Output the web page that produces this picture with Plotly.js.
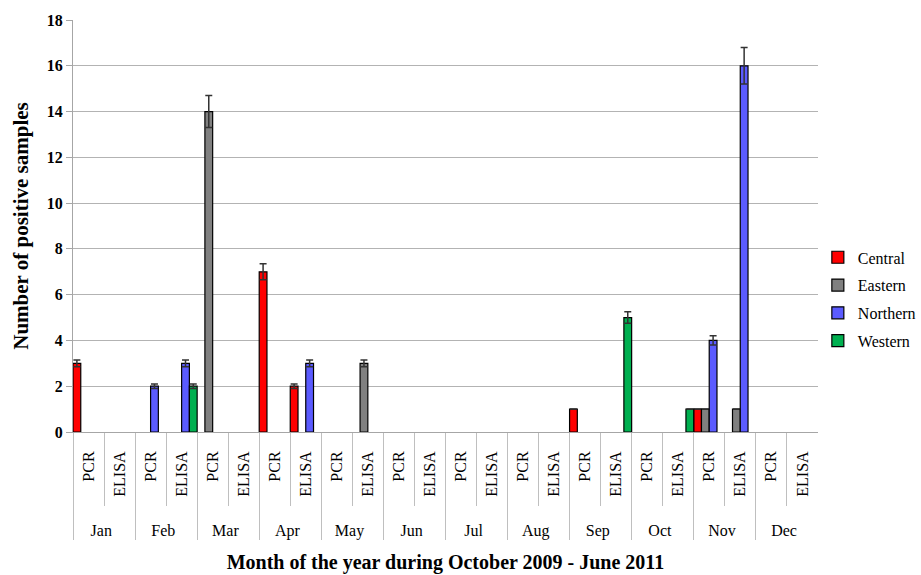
<!DOCTYPE html>
<html>
<head>
<meta charset="utf-8">
<script src="https://cdn.plot.ly/plotly-3.0.1.min.js"></script>
<style>html,body{margin:0;padding:0;background:#fff;}#chart{width:921px;height:575px;}</style>
</head>
<body>
<div id="chart"></div>
<script>
const months = ["Jan","Feb","Mar","Apr","May","Jun","Jul","Aug","Sep","Oct","Nov","Dec"];
const methods = ["PCR","ELISA"];
const seriesNames = ["Central","Eastern","Northern","Western"];
const seriesColors = ["#ff0000","#808080","#5b5bff","#00b050"];
// values per category in order Jan PCR, Jan ELISA, Feb PCR, ... Dec ELISA (null = no bar)
const central  = [3,null, null,null, null,null, 7,2, null,null, null,null, null,null, null,null, 1,null, null,null, 1,null, null,null];
const eastern  = [null,null, null,null, 14,null, null,null, null,3, null,null, null,null, null,null, null,null, null,null, 1,1, null,null];
const northern = [null,null, 2,3, null,null, null,3, null,null, null,null, null,null, null,null, null,null, null,null, 4,16, null,null];
const western  = [null,null, null,2, null,null, null,null, null,null, null,null, null,null, null,null, null,5, null,1, null,null, null,null];
const centralErr  = [0.15,0, 0,0, 0,0, 0.35,0.1, 0,0, 0,0, 0,0, 0,0, 0,0, 0,0, 0,0, 0,0];
const easternErr  = [0,0, 0,0, 0.7,0, 0,0, 0,0.15, 0,0, 0,0, 0,0, 0,0, 0,0, 0,0, 0,0];
const northernErr = [0,0, 0.1,0.15, 0,0, 0,0.15, 0,0, 0,0, 0,0, 0,0, 0,0, 0,0, 0.2,0.8, 0,0];
const westernErr  = [0,0, 0,0.1, 0,0, 0,0, 0,0, 0,0, 0,0, 0,0, 0,0.25, 0,0, 0,0, 0,0];

// leading no-break spaces give the inner label row extra depth (pushes month row down)
const pad = "\u00a0\u00a0\u00a0\u00a0\u00a0";
const xOuter = [], xInner = [];
months.forEach(m => methods.forEach(t => { xOuter.push(m); xInner.push(pad + t); }));

const values = [central, eastern, northern, western];
const errs = [centralErr, easternErr, northernErr, westernErr];
const serif = '"Liberation Serif", "Times New Roman", Times, serif';

const traces = seriesNames.map((name, i) => ({
  type: "bar",
  name: name,
  x: [xOuter, xInner],
  y: values[i],
  legendgroup: name,
  marker: {color: seriesColors[i], line: {color: "#000000", width: 1.2}},
  error_y: {type: "data", array: errs[i], visible: true, color: "#333333", thickness: 1.5, width: 3.5}
}));

const layout = {
  width: 921, height: 575,
  margin: {l: 73, r: 101, t: 20, b: 143},
  paper_bgcolor: "#ffffff", plot_bgcolor: "#ffffff",
  barmode: "group", bargap: 0, bargroupgap: 0,
  showlegend: true,
  legend: {xref: "container", yref: "container", x: 0.888, y: 0.582, xanchor: "left", yanchor: "top",
           traceorder: "grouped", tracegroupgap: 4,
           font: {family: serif, size: 16, weight: "normal", color: "#000"}, itemwidth: 30},
  font: {family: serif, color: "#000"},
  xaxis: {
    type: "multicategory",
    tickangle: -90,
    tickfont: {family: serif, size: 16, weight: "normal", color: "#000"},
    ticklabelstandoff: 12,
    ticks: "outside", tickson: "boundaries", ticklen: 73, tickcolor: "#bfbfbf", tickwidth: 1,
    showdividers: true, dividercolor: "#bfbfbf", dividerwidth: 1,
    showline: true, linecolor: "#a6a6a6", linewidth: 1,
    showgrid: false,
    title: {text: "Month of the year during October 2009 - June 2011", font: {family: serif, size: 20, weight: "bold", color: "#000"}, standoff: 16},
    automargin: false
  },
  yaxis: {
    range: [0, 18], dtick: 2, tick0: 0,
    tickfont: {family: serif, size: 16, weight: "bold", color: "#000"},
    ticks: "outside", ticklen: 6, tickcolor: "#a6a6a6",
    showline: true, linecolor: "#a6a6a6", linewidth: 1,
    showgrid: true, gridcolor: "#b3b3b3", gridwidth: 1,
    zeroline: false,
    title: {text: "Number of positive samples", font: {family: serif, size: 21, weight: "bold", color: "#000"}, standoff: 12},
    automargin: false
  }
};

Plotly.newPlot("chart", traces, layout, {displayModeBar: false, staticPlot: true});
</script>
</body>
</html>
